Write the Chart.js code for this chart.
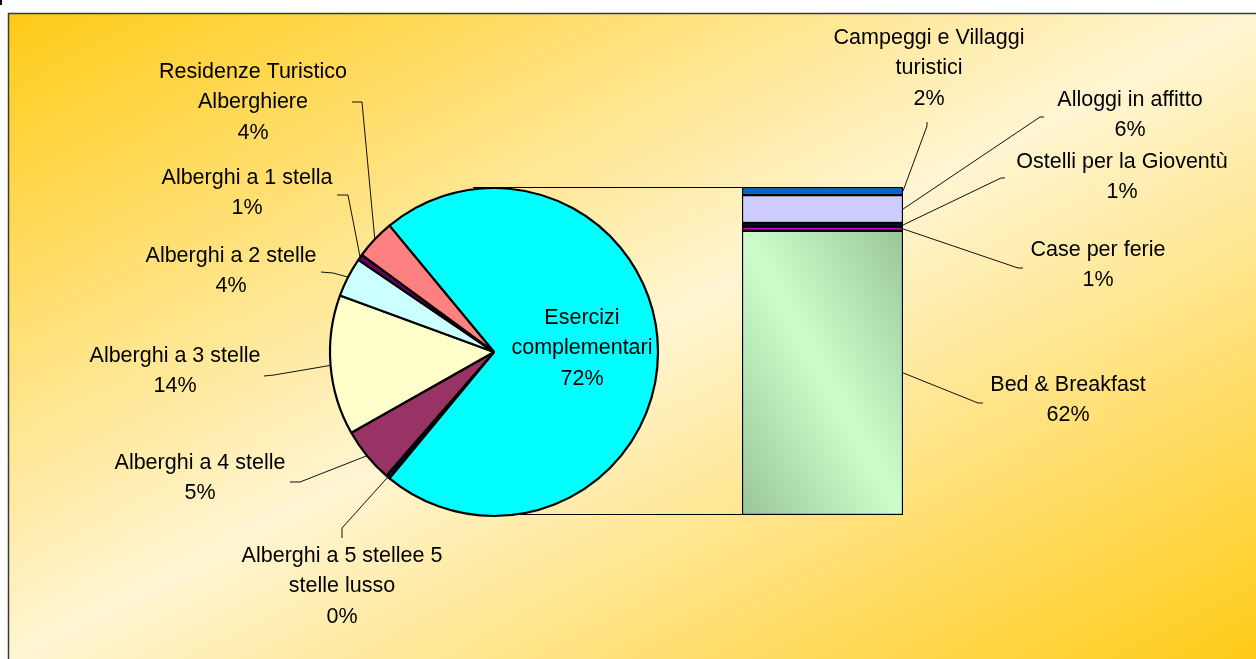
<!DOCTYPE html>
<html>
<head>
<meta charset="utf-8">
<script src="https://cdn.jsdelivr.net/npm/chart.js@4.4.0/dist/chart.umd.min.js"></script>
<style>
  html, body { margin: 0; padding: 0; background: #fff; }
  #wrap { position: relative; width: 1256px; height: 659px; }
  #wrap canvas { position: absolute; left: 0; top: 0; }
</style>
</head>
<body>
<div id="wrap">
  <canvas id="pieChart" width="1256" height="659"></canvas>
  <canvas id="barChart" width="1256" height="659"></canvas>
</div>
<script>
// hotel slices of the pie, clockwise after the big "complementari" slice
const hotelLabels = [
  ["Alberghi a 5 stellee 5", "stelle lusso"],
  ["Alberghi a 4 stelle"],
  ["Alberghi a 3 stelle"],
  ["Alberghi a 2 stelle"],
  ["Alberghi a 1 stella"],
  ["Residenze Turistico", "Alberghiere"]
];
const hotelValues = [0.4, 5.4, 13.8, 3.9, 0.6, 3.9];
const hotelColors = ['#000033', '#993366', '#ffffcc', '#ccffff', '#660066', '#ff8080'];

// the "complementari" slice split in the bar, bottom to top
const otherName = ["Esercizi", "complementari"];
const otherLabels = [
  ["Bed & Breakfast"],
  ["Case per ferie"],
  ["Ostelli per la Gioventù"],
  ["Alloggi in affitto"],
  ["Campeggi e Villaggi", "turistici"]
];
const otherValues = [62.4, 0.8, 0.9, 6.1, 1.8];
const otherColors = [null, '#ff00ff', '#000033', '#ccccff', '#0066cc'];

const otherTotal = otherValues.reduce((a, b) => a + b, 0);
const hotelTotal = hotelValues.reduce((a, b) => a + b, 0);
const otherFrac = otherTotal / (otherTotal + hotelTotal);

// label placement (text centre x, first line y, leader start + elbow)
const pieLabelPos = [
  {x: 582, y: 318, lead: null},
  {x: 342, y: 556, lead: [[342, 538], [342, 528]]},
  {x: 200, y: 463, lead: [[290, 482], [300, 482]]},
  {x: 175, y: 356, lead: [[264, 376], [274, 375]]},
  {x: 231, y: 256, lead: [[321, 272], [333, 273]]},
  {x: 247, y: 178, lead: [[337, 195], [348, 195]]},
  {x: 253, y: 72, lead: [[352, 102], [362, 102]]}
];
const barLabelPos = [
  {x: 1068, y: 385, lead: [[983, 403], [978, 403]]},
  {x: 1098, y: 250, lead: [[1023, 268], [1018, 268]]},
  {x: 1122, y: 162, lead: [[1005, 178], [1001, 178]]},
  {x: 1130, y: 100, lead: [[1044, 117], [1040, 117]]},
  {x: 929, y: 38, lead: [[927, 122], [927, 126]]}
];

const FONT = '21.5px "Liberation Sans", Arial, sans-serif';
const LINE_H = 30.5;

function pct(v) {
  return Math.round(v) + '%';
}

function drawText(ctx, lines, cx, y0) {
  ctx.save();
  ctx.font = FONT;
  ctx.fillStyle = '#000';
  ctx.textAlign = 'center';
  ctx.textBaseline = 'middle';
  lines.forEach((l, i) => ctx.fillText(l, cx, y0 + i * LINE_H));
  ctx.restore();
}

function drawLead(ctx, lead, end) {
  ctx.save();
  ctx.strokeStyle = '#111';
  ctx.lineWidth = 1;
  ctx.beginPath();
  ctx.moveTo(lead[0][0], lead[0][1]);
  ctx.lineTo(lead[1][0], lead[1][1]);
  ctx.lineTo(end[0], end[1]);
  ctx.stroke();
  ctx.restore();
}

const bgPlugin = {
  id: 'bg',
  beforeDraw(chart) {
    const ctx = chart.ctx;
    ctx.save();
    ctx.fillStyle = '#fff';
    ctx.fillRect(0, 0, chart.width, chart.height);
    const x0 = 9, y0 = 14;
    ctx.translate(x0, y0);
    ctx.scale(chart.width - x0, chart.height - y0);
    const g = ctx.createLinearGradient(0, 0, 1, 1);
    g.addColorStop(0, '#ffcb18');
    g.addColorStop(0.5, '#fff5d2');
    g.addColorStop(1, '#ffcb18');
    ctx.fillStyle = g;
    ctx.fillRect(0, 0, 1, 1);
    ctx.restore();

    ctx.save();
    ctx.strokeStyle = '#3a3a3a';
    ctx.lineWidth = 1.5;
    ctx.beginPath();
    ctx.moveTo(8.5, chart.height);
    ctx.lineTo(8.5, 13.5);
    ctx.lineTo(chart.width, 13.5);
    ctx.stroke();
    ctx.fillStyle = '#000';
    ctx.fillRect(0, 0, 2, 5);
    ctx.restore();
  }
};

const pieLabelPlugin = {
  id: 'pieLabels',
  afterDraw(chart) {
    const ctx = chart.ctx;
    const meta = chart.getDatasetMeta(0);
    const values = chart.data.datasets[0].data;
    meta.data.forEach((arc, i) => {
      const p = arc.getProps(['x', 'y', 'startAngle', 'endAngle', 'outerRadius'], true);
      const pos = pieLabelPos[i];
      const names = i === 0 ? otherName : hotelLabels[i - 1];
      if (pos.lead) {
        const mid = (p.startAngle + p.endAngle) / 2;
        drawLead(ctx, pos.lead, [p.x + Math.cos(mid) * p.outerRadius, p.y + Math.sin(mid) * p.outerRadius]);
      }
      drawText(ctx, names.concat([pct(values[i])]), pos.x, pos.y);
    });
  }
};

const pieChart = new Chart(document.getElementById('pieChart'), {
  type: 'pie',
  data: {
    labels: [otherName.join(' ')].concat(hotelLabels.map(l => l.join(' '))),
    datasets: [{
      data: [otherTotal].concat(hotelValues),
      backgroundColor: ['#00ffff'].concat(hotelColors),
      borderColor: '#000',
      borderWidth: 2.2,
      radius: 164
    }]
  },
  options: {
    responsive: false,
    animation: false,
    rotation: 90 - otherFrac * 180,
    layout: { padding: { left: 294, right: 562, top: 152, bottom: 107 } },
    plugins: {
      legend: { display: false },
      tooltip: { enabled: false }
    }
  },
  plugins: [bgPlugin, pieLabelPlugin]
});

function bbGradient(context) {
  const chart = context.chart;
  if (!chart.chartArea) return '#ccffcc';
  const area = chart.chartArea;
  const ys = chart.scales.y;
  const top = ys.getPixelForValue(otherValues[0]);
  const bottom = ys.getPixelForValue(0);
  const W = area.right - area.left, H = bottom - top;
  const cx = area.left + W / 2, cy = top + H / 2;
  const k = H * W / (H * H + W * W);
  const g = chart.ctx.createLinearGradient(cx + H * k, cy - W * k, cx - H * k, cy + W * k);
  g.addColorStop(0, '#99c699');
  g.addColorStop(0.5, '#ccffcc');
  g.addColorStop(1, '#99c699');
  return g;
}

const barLabelPlugin = {
  id: 'barLabels',
  afterDraw(chart) {
    const ctx = chart.ctx;
    const ys = chart.scales.y;
    const first = chart.getDatasetMeta(0).data[0];
    const left = first.x - first.width / 2;
    const topY = ys.getPixelForValue(otherTotal);
    const botY = ys.getPixelForValue(0);

    // lines joining the pie to the bar
    const arc = pieChart.getDatasetMeta(0).data[0];
    const pc = arc.getProps(['x', 'y'], true);
    ctx.save();
    ctx.strokeStyle = '#000';
    ctx.lineWidth = 1;
    ctx.beginPath();
    ctx.moveTo(pc.x - 21, Math.round(topY) + 0.5);
    ctx.lineTo(left, Math.round(topY) + 0.5);
    ctx.moveTo(pc.x + 26, Math.round(botY) - 0.5);
    ctx.lineTo(left, Math.round(botY) - 0.5);
    ctx.stroke();
    ctx.restore();

    otherLabels.forEach((names, i) => {
      const bar = chart.getDatasetMeta(i).data[0];
      const p = bar.getProps(['x', 'y', 'base', 'width'], true);
      const pos = barLabelPos[i];
      drawLead(ctx, pos.lead, [p.x + p.width / 2, (p.y + p.base) / 2]);
      drawText(ctx, names.concat([pct(otherValues[i])]), pos.x, pos.y);
    });
  }
};

const barChart = new Chart(document.getElementById('barChart'), {
  type: 'bar',
  data: {
    labels: [''],
    datasets: otherLabels.map((names, i) => ({
      label: names.join(' '),
      data: [otherValues[i]],
      backgroundColor: i === 0 ? bbGradient : otherColors[i],
      borderColor: '#000',
      borderWidth: 1.5,
      borderSkipped: false,
      barPercentage: 1,
      categoryPercentage: 1
    }))
  },
  options: {
    responsive: false,
    animation: false,
    layout: { padding: { left: 742, right: 353, top: 187, bottom: 144 } },
    scales: {
      x: { display: false, stacked: true },
      y: { display: false, stacked: true, min: 0, max: otherTotal }
    },
    plugins: {
      legend: { display: false },
      tooltip: { enabled: false }
    }
  },
  plugins: [barLabelPlugin]
});
</script>
</body>
</html>
